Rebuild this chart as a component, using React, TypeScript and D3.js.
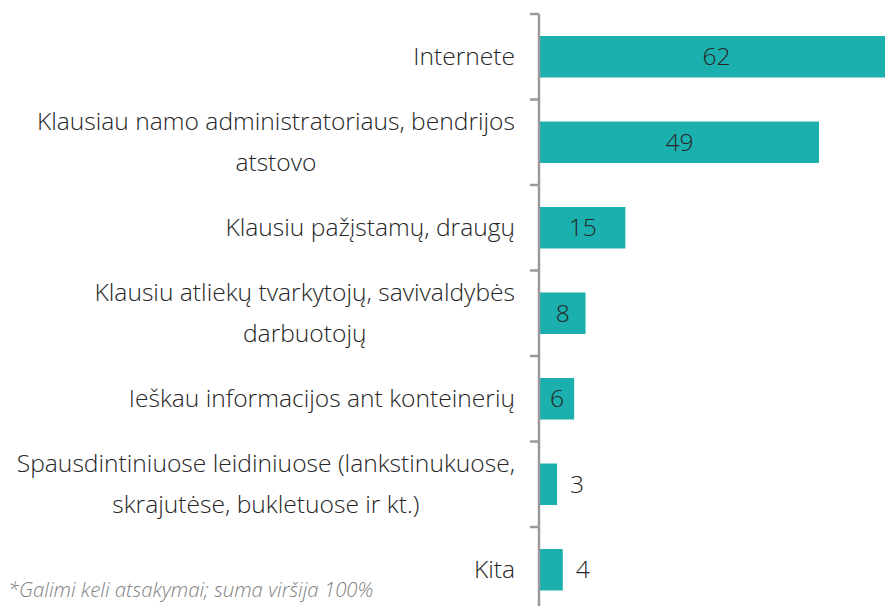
import React from "react";
import * as d3 from "d3";

const categories: string[][] = [
  ["Internete"],
  ["Klausiau namo administratoriaus, bendrijos", "atstovo"],
  ["Klausiu pažįstamų, draugų"],
  ["Klausiu atliekų tvarkytojų, savivaldybės", "darbuotojų"],
  ["Ieškau informacijos ant konteinerių"],
  ["Spausdintiniuose leidiniuose (lankstinukuose,", "skrajutėse, bukletuose ir kt.)"],
  ["Kita"],
];
const values: number[] = [62, 49, 15, 8, 6, 3, 4];
const footnote = "*Galimi keli atsakymai; suma viršija 100%";

const W = 885;
const H = 606;
const FONT = "'Open Sans', sans-serif";
const FS = 24.6;

let ctx: CanvasRenderingContext2D | null = null;
function measure(t: string, font: string): number {
  if (!ctx) ctx = document.createElement("canvas").getContext("2d");
  if (!ctx) return t.length * 10;
  ctx.font = font;
  return ctx.measureText(t).width;
}

export default function App() {
  const keys = categories.map((_, i) => String(i));
  const y = d3.scaleBand<string>().domain(keys).range([14, 14 + 85.5 * 7]).paddingInner(0.515).paddingOuter(0.2575);
  const x = d3.scaleLinear().domain([0, 62]).range([540, 893]);
  const step = y.step();
  const top = 14;
  const ticks = d3.range(8).map((i) => top + i * step);
  const lineGap = 41;
  const font = `300 ${FS}px ${FONT}`;

  return (
    <div style={{ position: "absolute", left: 0, top: 0 }}>
      <svg width={W} height={H} style={{ display: "block" }}>
        <rect width={W} height={H} fill="#fff" />
        {values.map((v, i) => {
          const y0 = y(keys[i])!;
          const bw = x(v) - x(0);
          const inside = bw > 30;
          const cy = y0 + y.bandwidth() / 2;
          return (
            <g key={i}>
              <rect x={x(0)} y={y0} width={bw} height={y.bandwidth()} fill="#1BB0AD" />
              <text
                x={inside ? x(0) + bw / 2 : x(v) + 13}
                y={cy}
                dy="0.35em"
                textAnchor={inside ? "middle" : "start"}
                fontFamily={FONT}
                fontWeight={300}
                fontSize={FS}
                fill="#262626"
              >
                {v}
              </text>
            </g>
          );
        })}
        <line x1={539} x2={539} y1={top} y2={H + 10} stroke="#9a9a9a" strokeWidth={2.5} />
        {ticks.map((t, i) => (
          <line key={i} x1={530} x2={539} y1={t} y2={t} stroke="#9a9a9a" strokeWidth={2.5} />
        ))}
        {categories.map((lines, i) => {
          const cy = y(keys[i])! + y.bandwidth() / 2;
          const start = cy - ((lines.length - 1) * lineGap) / 2;
          const maxW = d3.max(lines, (l) => measure(l, font)) || 0;
          const center = 515 - maxW / 2;
          return (
            <text key={i} fontFamily={FONT} fontWeight={300} fontSize={FS} fill="#262626">
              {lines.map((l, j) => (
                <tspan key={j} x={lines.length > 1 ? center : 515} y={start + j * lineGap} dy="0.35em" textAnchor={lines.length > 1 ? "middle" : "end"}>
                  {l}
                </tspan>
              ))}
            </text>
          );
        })}
        <text x={8} y={597} fontFamily={FONT} fontStyle="italic" fontWeight={300} fontSize={20.4} fill="#7f7f7f">
          {footnote}
        </text>
      </svg>
    </div>
  );
}
